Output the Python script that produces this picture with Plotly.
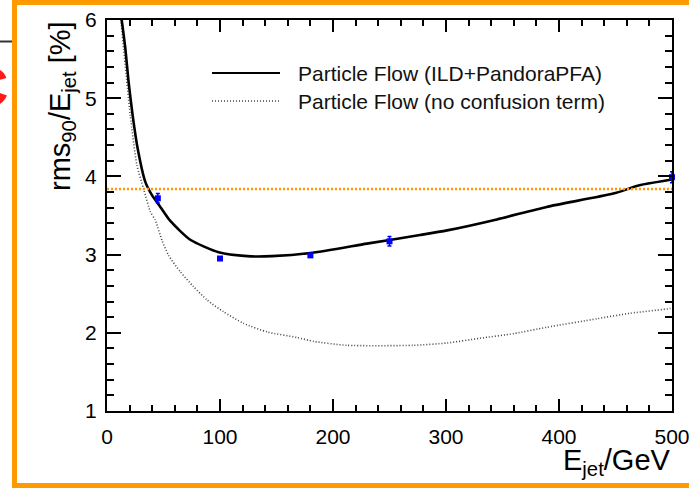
import plotly.graph_objects as go

# Jet energy resolution (rms90 / E_jet, in %) versus jet energy
e_pfa = [12.5, 13.3, 16.2, 19.1, 22.7, 27.1, 33.9, 39.8, 47.2, 56, 73.7, 98.8, 124, 146, 180,
         230, 277, 301, 345, 389, 448, 472, 496, 500]
res_pfa = [6.05, 5.97, 5.64, 5.21, 4.78, 4.36, 3.93, 3.76, 3.61, 3.43, 3.19, 3.03, 2.98, 2.98,
           3.02, 3.14, 3.25, 3.31, 3.45, 3.61, 3.78, 3.89, 3.95, 3.96]

e_noconf = [12.0, 14.7, 20.6, 26.5, 32.4, 38.3, 42.7, 48.7, 54.5, 64.9, 76.6, 88.5, 103, 121,
            142, 168, 183, 212, 271, 301, 330, 360, 389, 434, 463, 498, 500]
res_noconf = [6.05, 5.63, 4.78, 4.14, 3.84, 3.55, 3.44, 3.18, 2.99, 2.78, 2.59, 2.42, 2.27,
              2.12, 2.01, 1.94, 1.89, 1.84, 1.84, 1.87, 1.93, 1.99, 2.07, 2.18, 2.25, 2.31, 2.32]

e_points = [45, 100, 180, 250, 500]
res_points = [3.72, 2.95, 2.99, 3.17, 3.99]
res_errors = [0.06, 0.02, 0.02, 0.06, 0.07]

ref_level = 3.84

legend_labels = ["Particle Flow (ILD+PandoraPFA)", "Particle Flow (no confusion term)"]

# canvas and frame geometry (pixels)
W, H = 689, 493
L, T, PW, PH = 107, 20, 565, 391
FONT = "Liberation Sans, Arial, Helvetica, sans-serif"
ORANGE = "#ff9900"


def px(x):
    return (x - L) / PW


def py(y):
    return (T + PH - y) / PH


fig = go.Figure()

fig.add_trace(go.Scatter(
    x=e_noconf, y=res_noconf, mode="lines",
    line=dict(color="#444444", width=1.6, dash="1px,2px", shape="spline", smoothing=0.6),
    name=legend_labels[1], showlegend=False))

fig.add_trace(go.Scatter(
    x=e_pfa, y=res_pfa, mode="lines",
    line=dict(color="black", width=2.6, shape="spline", smoothing=0.6),
    name=legend_labels[0], showlegend=False))

fig.add_hline(y=ref_level, line=dict(color=ORANGE, width=2.5, dash="2px,2px"))

fig.add_trace(go.Scatter(
    x=e_points, y=res_points, mode="markers",
    marker=dict(symbol="square", size=6, color="#0000ff"),
    error_y=dict(type="data", array=res_errors, color="#0000ff", thickness=1.5, width=2),
    showlegend=False, cliponaxis=False))

tick_font = dict(family=FONT, size=21, color="black")
axis_common = dict(showgrid=False, zeroline=False, showline=True, linecolor="black",
                   linewidth=2, ticks="inside", tickcolor="black", tickwidth=1.5,
                   mirror="allticks", automargin=False, ticklabeloverflow="allow",
                   layer="above traces")

fig.update_layout(
    width=W, height=H,
    margin=dict(l=L, r=W - L - PW, t=T, b=H - T - PH),
    paper_bgcolor="white", plot_bgcolor="white",
    showlegend=False,
    xaxis=dict(range=[0, 500], tickmode="linear", tick0=0, dtick=100, ticklen=12,
               minor=dict(tick0=0, dtick=20, ticks="inside", ticklen=6, tickcolor="black",
                          tickwidth=1.5),
               tickfont=tick_font, ticklabelstandoff=6, **axis_common),
    yaxis=dict(range=[1, 6], tickmode="linear", tick0=1, dtick=1, ticklen=14,
               minor=dict(tick0=1, dtick=0.2, ticks="inside", ticklen=7, tickcolor="black",
                          tickwidth=1.5),
               tickfont=tick_font, ticklabelstandoff=4, **axis_common),
)

# axis titles
fig.add_annotation(text="rms<sub>90</sub>/E<sub>jet</sub> [%]", textangle=-90,
                   x=px(62), y=py(19), xref="paper", yref="paper", xanchor="center",
                   yanchor="top", showarrow=False,
                   font=dict(family=FONT, size=29, color="black"))
fig.add_annotation(text="E<sub>jet</sub>/GeV",
                   x=px(673), y=py(442), xref="paper", yref="paper", xanchor="right",
                   yanchor="top", showarrow=False,
                   font=dict(family=FONT, size=29, color="black"))

# legend entries drawn inside the frame
legend_rows = [73, 101]
legend_styles = [dict(color="black", width=2.2),
                 dict(color="#444444", width=1.6, dash="1px,2px")]
for label, row, style in zip(legend_labels, legend_rows, legend_styles):
    fig.add_shape(type="line", xref="paper", yref="paper", x0=px(212), x1=px(280),
                  y0=py(row), y1=py(row), line=style, layer="above")
    fig.add_annotation(text=label, x=px(296), y=py(row), xref="paper", yref="paper",
                       xanchor="left", yanchor="middle", showarrow=False,
                       font=dict(family=FONT, size=21, color="#111111"))

# slide frame around the figure
frame_lines = [
    (12, 700, 2.5, 2.5, ORANGE, 5),
    (14.5, 14.5, 0, 488, ORANGE, 5),
    (12, 700, 485.5, 485.5, ORANGE, 5),
    (0, 12, 41.5, 41.5, "#333333", 2),
]
for x0, x1, y0, y1, col, wid in frame_lines:
    fig.add_shape(type="line", xref="paper", yref="paper", x0=px(x0), x1=px(x1),
                  y0=py(y0), y1=py(y1), line=dict(color=col, width=wid))

fig.add_annotation(text="<b>C</b>", x=px(10), y=py(87), xref="paper", yref="paper",
                   xanchor="right", yanchor="middle", showarrow=False,
                   font=dict(family=FONT, size=56, color="#ff1a1a"))

fig.write_html("out.html")
